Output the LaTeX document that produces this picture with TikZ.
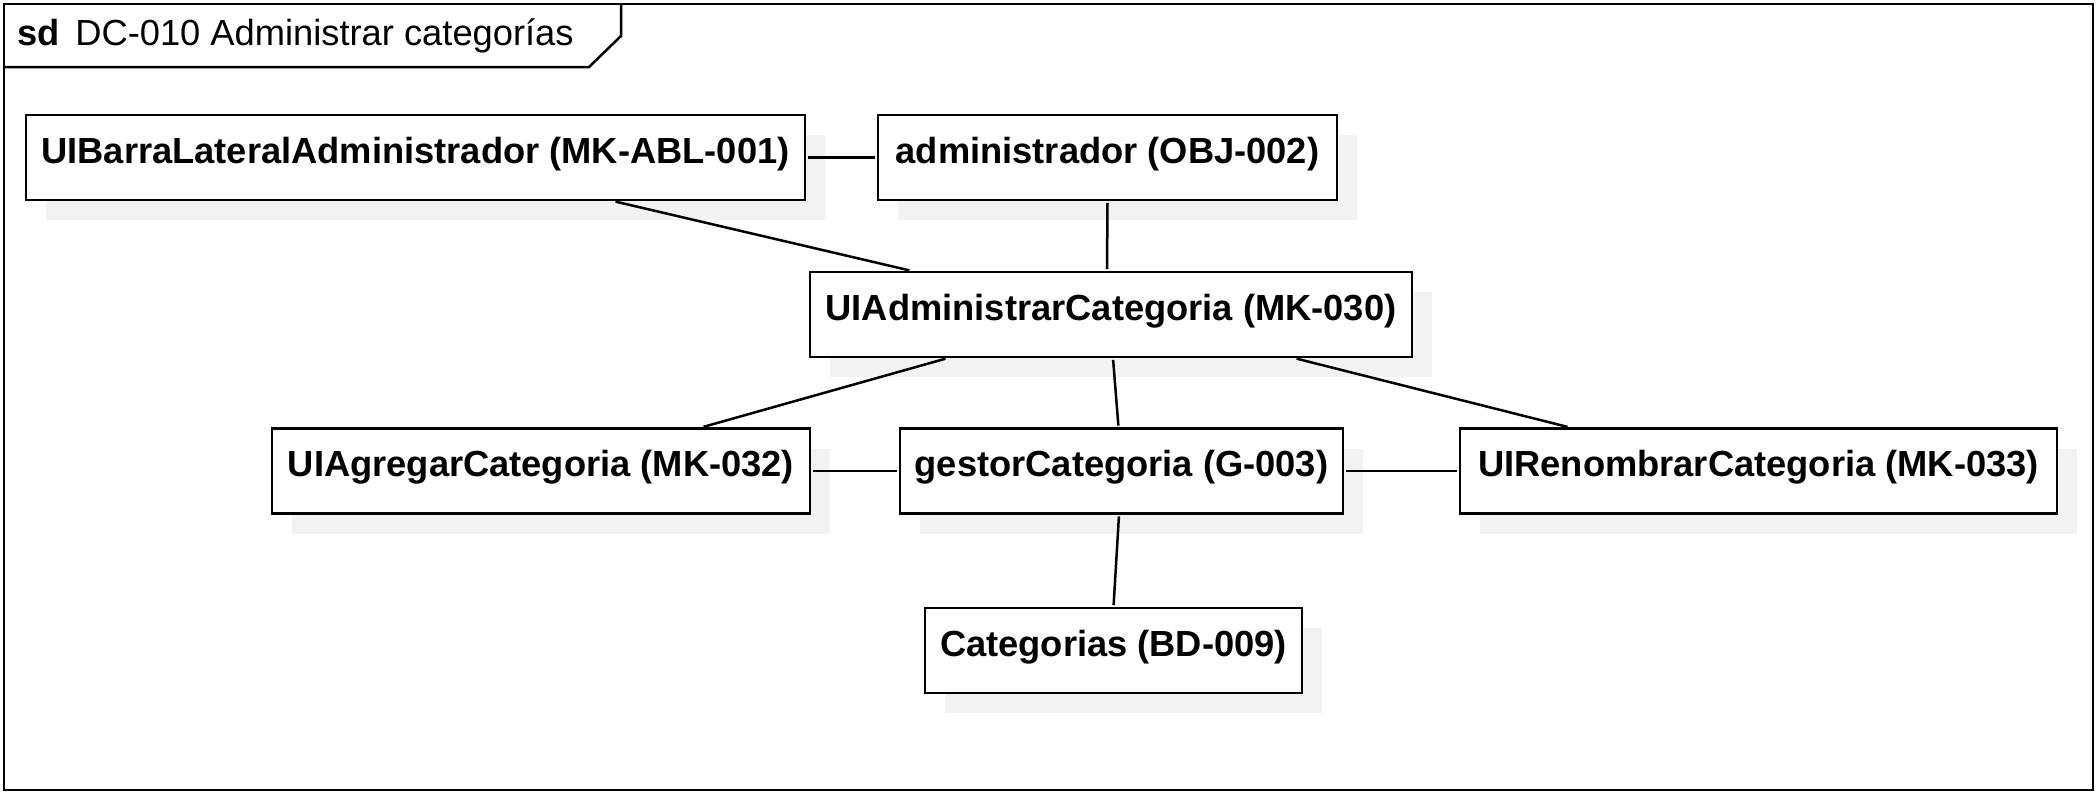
\documentclass[tikz,border=0pt]{standalone}
\usepackage{fontspec}
\setmainfont{Liberation Sans}
\usetikzlibrary{shadows}
\definecolor{shadowgray}{HTML}{F2F2F2}
\tikzset{
  obj/.style={draw, line width=1.25pt, fill=white, inner sep=0pt,
    text height=24pt, text depth=18.5pt, align=center,
    font=\fontsize{18.15}{22}\selectfont\bfseries,
    drop shadow={shadow xshift=10pt, shadow yshift=-10pt, fill=shadowgray, opacity=1}},
  link/.style={line width=1.25pt, shorten <=0.8pt, shorten >=0.8pt},
  frame/.style={line width=1.25pt}
}
\begin{document}
\begin{tikzpicture}[x=0.5pt,y=-0.5pt]
\useasboundingbox (0,0) rectangle (2097,794);
% frame
\draw[frame] (4,4) rectangle (2093,790);
\draw[frame] (4,67) -- (589,67) -- (621,36) -- (621,4);
\node[anchor=base west, inner sep=0pt, font=\fontsize{18.15}{22}\selectfont] (title) at (17,45)
  {{\bfseries sd}\hspace{7.8pt}DC-010 Administrar categorías};
% objects
\node[obj, minimum width=389.5pt] (barra) at (415.5,157.5) {UIBarraLateralAdministrador (MK-ABL-001)};
\node[obj, minimum width=229.5pt] (admin) at (1107.5,157.5) {administrador (OBJ-002)};
\node[obj, minimum width=301pt] (uiadmin) at (1111,314.5) {UIAdministrarCategoria (MK-030)};
\node[obj, minimum width=269pt] (agregar) at (541,471) {UIAgregarCategoria (MK-032)};
\node[obj, minimum width=221.5pt] (gestor) at (1121.5,471) {gestorCategoria (G-003)};
\node[obj, minimum width=298.5pt] (renombrar) at (1758.5,471) {UIRenombrarCategoria (MK-033)};
\node[obj, minimum width=188.5pt] (categorias) at (1113.5,650.5) {Categorias (BD-009)};
% connectors
\draw[link] (barra.east) -- (admin.west);
\draw[link] ([xshift=99.25pt]barra.south) -- ([xshift=-100pt]uiadmin.north);
\draw[link] (admin.south) -- ([xshift=-2pt]uiadmin.north);
\draw[link] ([xshift=-82pt]uiadmin.south) -- ([xshift=80.5pt]agregar.north);
\draw[link] ([xshift=1pt]uiadmin.south) -- ([xshift=-1.5pt]gestor.north);
\draw[link] ([xshift=92pt]uiadmin.south) -- ([xshift=-94.75pt]renombrar.north);
\draw[link] (agregar.east) -- (gestor.west);
\draw[link] (gestor.east) -- (renombrar.west);
\draw[link] ([xshift=-1.25pt]gestor.south) -- (categorias.north);
\end{tikzpicture}
\end{document}
